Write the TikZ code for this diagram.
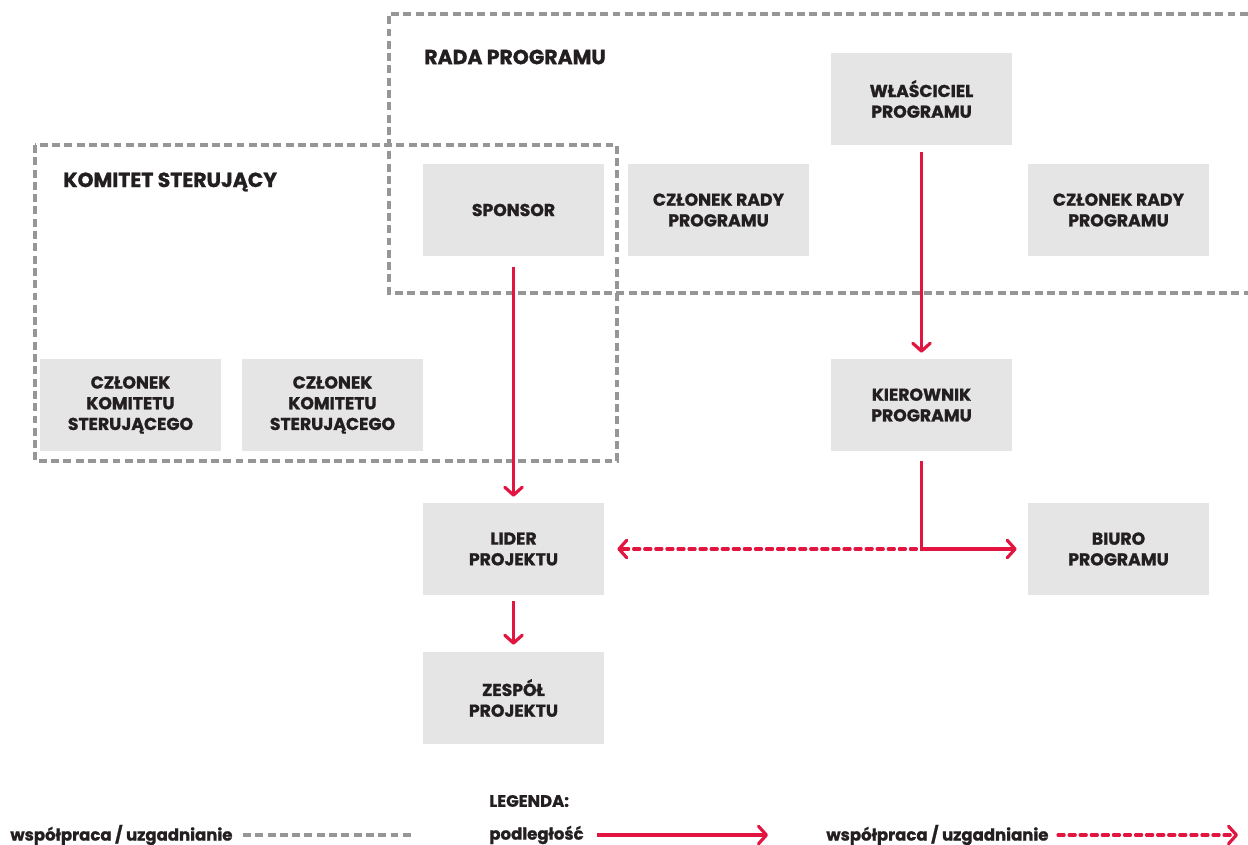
\documentclass[tikz,border=0pt]{standalone}
\usepackage{fontspec}
\setmainfont{Poppins}[BoldFeatures={FakeBold=1.2}]
\usetikzlibrary{arrows.meta}
\usetikzlibrary{positioning}

\definecolor{czerwony}{RGB}{226,20,64}
\definecolor{tlo}{RGB}{229,229,229}
\definecolor{ramka}{RGB}{150,150,150}
\definecolor{napis}{RGB}{35,31,32}

\tikzset{
    pole/.style={fill=tlo, minimum width=3.62cm, minimum height=1.84cm, inner sep=0pt,
        align=center, text=napis, font=\fontsize{9.8}{11.8}\selectfont\bfseries},
    tytul/.style={anchor=west, inner sep=0pt, text=napis, font=\fontsize{11.6}{13}\selectfont\bfseries},
    opis/.style={anchor=west, inner sep=0pt, text=napis, font=\fontsize{9.4}{11}\selectfont\bfseries},
    grupa/.style={draw=ramka, line width=1.8pt, dash pattern=on 4.5pt off 2.5pt},
    podleglosc/.style={draw=czerwony, line width=1.8pt, -{Straight Barb[length=4.5pt,width=10pt,round]}},
    wspolpraca/.style={podleglosc, dash pattern=on 3.5pt off 2.8pt, line cap=round}
}

\begin{document}
\begin{tikzpicture}[x=0.02cm, y=-0.02cm]
    \useasboundingbox (0,0) rectangle (1248,845);

    % Ramki grup
    \draw[grupa] (1260,14) -- (389,14) -- (389,293) -- (1260,293); % Rada programu
    \draw[grupa] (35,145) rectangle (617,461); % Komitet sterujacy
    \node[tytul] (rada) at (424,57) {RADA PROGRAMU};
    \node[tytul] (komitet) at (63,182) {KOMITET STERUJĄCY};

    % Role
    \node[pole] (wlasciciel) at (921.5,99) {WŁAŚCICIEL\\PROGRAMU};
    \node[pole] (sponsor) at (513.5,210) {SPONSOR};
    \node[pole] (rada1) at (718.5,210) {CZŁONEK RADY\\PROGRAMU};
    \node[pole] (rada2) at (1118.5,210) {CZŁONEK RADY\\PROGRAMU};
    \node[pole] (komitet1) at (130.5,405) {CZŁONEK\\KOMITETU\\STERUJĄCEGO};
    \node[pole] (komitet2) at (332.5,405) {CZŁONEK\\KOMITETU\\STERUJĄCEGO};
    \node[pole] (kierownik) at (921.5,405) {KIEROWNIK\\PROGRAMU};
    \node[pole] (lider) at (513.5,549) {LIDER\\PROJEKTU};
    \node[pole] (biuro) at (1118.5,549) {BIURO\\PROGRAMU};
    \node[pole] (zespol) at (513.5,698) {ZESPÓŁ\\PROJEKTU};

    % Polaczenia
    \draw[podleglosc, shorten <=0.22cm, shorten >=0.12cm] (sponsor) -- (lider);
    \draw[podleglosc, shorten <=0.14cm, shorten >=0.12cm] (wlasciciel) -- (kierownik);
    \draw[podleglosc, shorten <=0.2cm, shorten >=0.22cm] (kierownik.south) |- (biuro.west);
    \draw[podleglosc, shorten <=0.12cm, shorten >=0.14cm] (lider) -- (zespol);
    \coordinate (naroznik) at ([xshift=-0.1cm]kierownik.south |- biuro.west);
    \draw[wspolpraca, shorten >=0.26cm] (naroznik) -- (lider.east);

    % Legenda
    \node[opis] (legenda) at (489,801) {LEGENDA:};
    \node[opis] (opis1) at (10,835) {współpraca / uzgadnianie};
    \node[opis] (opis2) at (489,835) {podległość};
    \node[opis] (opis3) at (826,835) {współpraca / uzgadnianie};
    \coordinate (l1a) at (243,835); \coordinate (l1b) at (413,835);
    \coordinate (l2a) at (597,835); \coordinate (l2b) at (768,835);
    \coordinate (l3a) at (1058,835); \coordinate (l3b) at (1238,835);
    \draw[grupa] (l1a) -- (l1b);
    \draw[podleglosc] (l2a) -- (l2b);
    \draw[wspolpraca] (l3a) -- (l3b);
\end{tikzpicture}
\end{document}
